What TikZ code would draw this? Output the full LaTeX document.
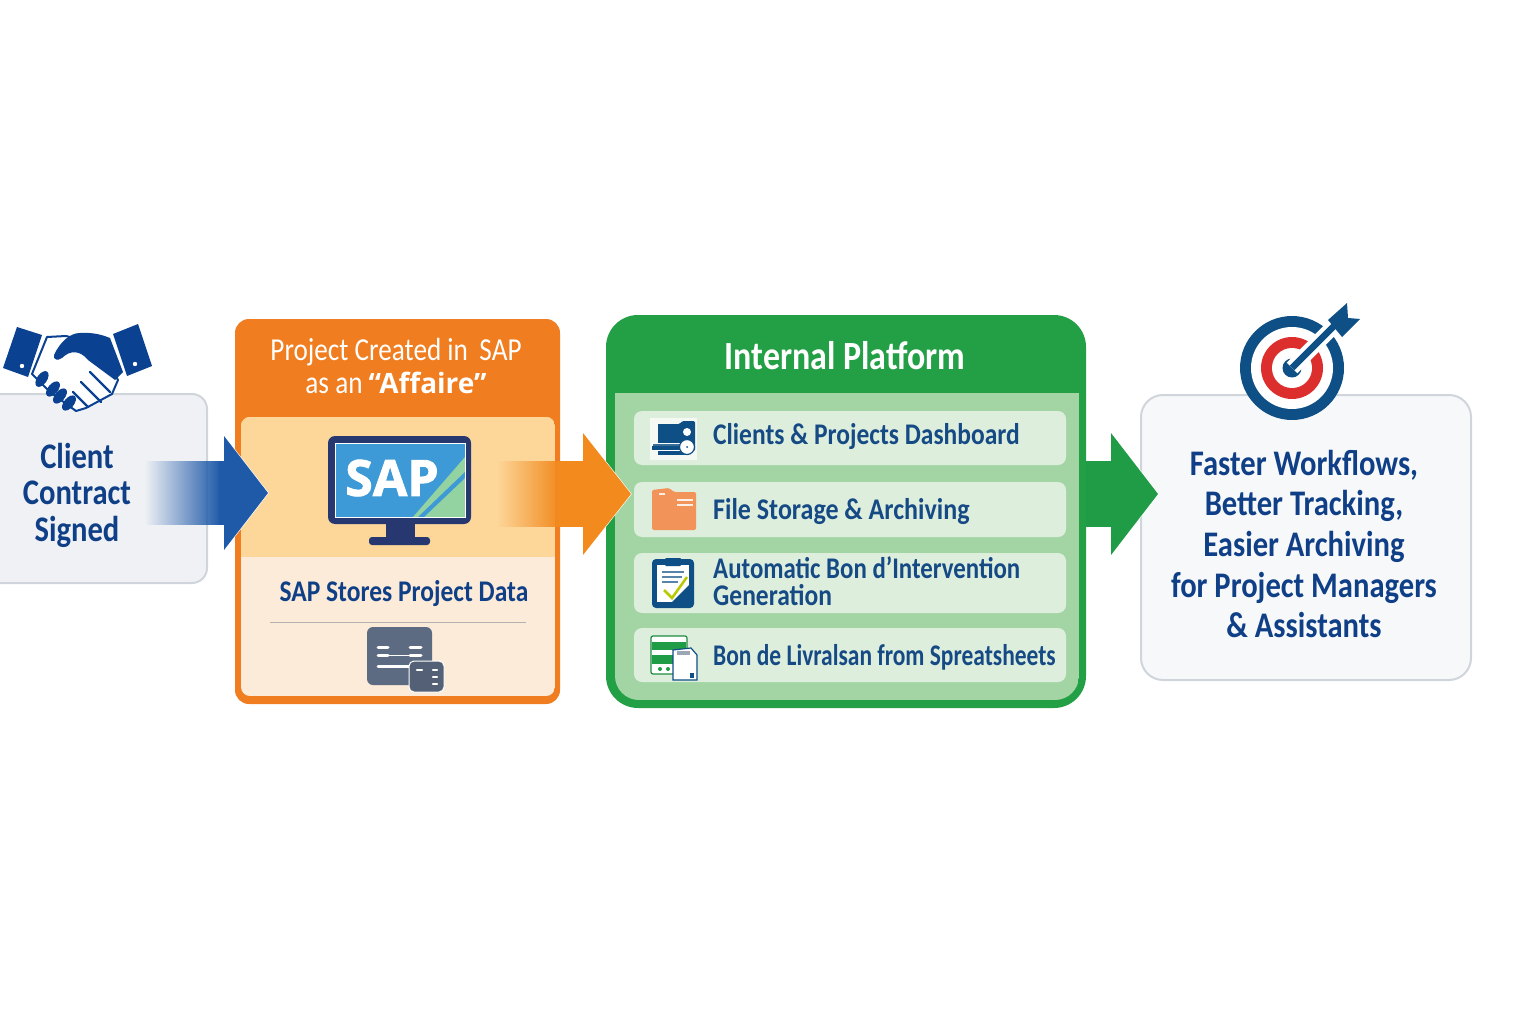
\documentclass[tikz,border=0pt]{standalone}
\usepackage{fontspec}
\usepackage{graphicx}
\setmainfont{Carlito}[FakeStretch=0.85]
\newfontfamily\heavy{Open Sans}
\newfontfamily\heavier{Open Sans}[BoldFeatures={FakeBold=1.6}]
\usetikzlibrary{calc,fadings}
\definecolor{navy}{HTML}{0F3F86}
\definecolor{rownavy}{HTML}{154A85}
\definecolor{cuffblue}{HTML}{0A4191}
\definecolor{orangeA}{HTML}{F07D1F}
\definecolor{peach}{HTML}{FDD79A}
\definecolor{cream}{HTML}{FCEBD8}
\definecolor{greenA}{HTML}{23A045}
\definecolor{greenB}{HTML}{A2D5A3}
\definecolor{rowbg}{HTML}{DDEEDD}
\definecolor{boxbg}{HTML}{EFF1F5}
\definecolor{boxline}{HTML}{D0D5DC}
\definecolor{mon}{HTML}{26386F}
\definecolor{screen}{HTML}{3E9AD6}
\definecolor{screeng}{HTML}{93D3A2}
\definecolor{ico}{HTML}{5C6B82}
\definecolor{tgt}{HTML}{0E4F86}
\definecolor{tred}{HTML}{DD2E2E}
\definecolor{arB}{HTML}{1F5AA8}
\definecolor{arO}{HTML}{F28A1E}
\definecolor{arG}{HTML}{1F9C45}
\definecolor{fold}{HTML}{F2935A}
\tikzfading[name=fadeE,left color=transparent!100,right color=transparent!0]
\newcommand{\fs}[2]{\fontsize{#1}{#2}\selectfont}
\tikzset{
  whitebox/.style={draw=boxline,line width=2pt,fill=#1,inner sep=0pt,rounded corners=15pt},
  rowbox/.style={fill=rowbg,inner sep=0pt,rounded corners=8pt},
  rowtext/.style={anchor=west,inner sep=0pt,text=rownavy,font=\fs{30}{30}\bfseries,text height=19pt,text depth=6pt},
  headtext/.style={inner sep=0pt,align=center,text=navy},
  headfill/.style={fill=#1},
  headedge/.style={draw=white,line width=1.2pt,line join=miter},
}
\begin{document}
\begin{tikzpicture}[x=1pt,y=-1pt]
\useasboundingbox (0,0) rectangle (1536,1024);
\clip (0,0) rectangle (1536,1024);

% ---- client box
\node[whitebox=boxbg,minimum width=227pt,minimum height=189pt] (client) at (93.5,488.5) {};
\node[headtext,font=\fs{36}{36.5}\bfseries] (clienttext) at (77,495) {Client\\Contract\\Signed};

% ---- handshake
\fill[cuffblue] (17,327)--(42,335)--(28,377)--(3,368)--cycle;
\fill[cuffblue] (113,334)--(138,324)--(152,366)--(127,376)--cycle;
\fill[white] (22,366) circle (2.2);
\fill[white] (135,364) circle (2.2);
\draw[cuffblue,line width=2pt,fill=white,line join=round]
  (47,337)--(66,336)--(100,345)--(118,380)--(112,394)--(86,408)--(76,411)--(50,392)--(32,374)--cycle;
\fill[cuffblue] (54,355) .. controls (60,342) and (70,333) .. (80,333)
  .. controls (95,332) and (105,336) .. (110,338) -- (123,372) -- (115,380)
  -- (88,360) .. controls (80,350) and (70,350) .. (62,358) .. controls (58,361) and (53,360) .. (54,355) -- cycle;
\foreach \a/\b/\r in {42/379/-35,53/389/-40,60/396/-40,69/403/-40}
  \fill[cuffblue,rotate around={\r+90:(\a,\b)}] (\a,\b) ellipse (9 and 5);
\draw[cuffblue,line width=2.2pt,line cap=round] (90,372)--(110,392);
\draw[cuffblue,line width=2.2pt,line cap=round] (81,382)--(101,402);
\draw[cuffblue,line width=2.2pt,line cap=round] (73,392)--(88,407);

% ---- orange box
\node[fill=orangeA,inner sep=0pt,rounded corners=14pt,minimum width=325pt,minimum height=385pt] (sapbox) at (397.5,511.5) {};
\begin{scope}
\clip[rounded corners=9pt] (241,417) rectangle (555,696);
\fill[cream] (241,417) rectangle (555,696);
\fill[peach] (241,417) rectangle (555,557);
\end{scope}
\node[inner sep=0pt,align=center,text=white,font=\fs{32}{33}] (saphead) at (396,366)
  {Project Created in\, SAP\\as an {\heavy\bfseries\fontsize{28}{33}\selectfont “Affaire”}};
% monitor
\fill[mon] (386,522) rectangle (415,538);
\fill[mon,rounded corners=3pt] (369,537) rectangle (430,545);
\fill[mon,rounded corners=7pt] (328,436) rectangle (471,524);
\fill[screen] (335,443) rectangle (465,517);
\fill[screeng] (465,457) -- (465,517) -- (413,517) -- cycle;
\fill[screen] (465,472) -- (465,478) -- (424,517) -- (418,517) -- cycle;
\draw[white,line width=1pt] (335,443) rectangle (465,517);
\node[inner sep=0pt,text=white,font=\heavier\fs{50}{50}\bfseries] (saplogo) at (392,478) {SAP};
\node[headtext,font=\fs{30}{30}\bfseries] (stores) at (404,594) {SAP Stores Project Data};
\coordinate (ruleL) at (270,622);
\coordinate (ruleR) at (526,622);
\draw[black!30,line width=0.8pt] (ruleL)--(ruleR);
% data icon
\fill[ico,rounded corners=6pt] (367,627) rectangle (432,685);
\draw[white,line width=3pt,line cap=round] (378,647)--(388,647) (410,647)--(421,647)
  (378,655)--(388,655) (410,655)--(421,655) (378,666)--(410,666);
\draw[white,line width=1pt] (388,655)--(410,655);
\draw[white,fill=ico!90!black,line width=1pt,rounded corners=5pt] (409,661) rectangle (444,692);
\draw[white,line width=2.4pt,line cap=round] (417,670)--(422,670) (433,670)--(437,670)
  (433,677)--(437,677) (433,684)--(437,684);

% ---- green box
\node[fill=greenA,inner sep=0pt,rounded corners=32pt,minimum width=480pt,minimum height=393pt] (platform) at (846,511.5) {};
\begin{scope}
\clip[rounded corners=24pt] (615,360) rectangle (1079,700);
\fill[greenB] (615,393) rectangle (1079,700);
\end{scope}
\node[inner sep=0pt,text=white,font=\fs{40}{40}\bfseries] (plathead) at (845,356) {Internal Platform};
\node[rowbox,minimum width=432pt,minimum height=54pt] (r1) at (850,438) {};
\node[rowbox,minimum width=432pt,minimum height=55pt] (r2) at (850,509.5) {};
\node[rowbox,minimum width=432pt,minimum height=60pt] (r3) at (850,583) {};
\node[rowbox,minimum width=432pt,minimum height=54pt] (r4) at (850,655) {};
\node[rowtext] (t1) at (713,438) {Clients \& Projects Dashboard};
\node[rowtext] (t2) at (713,513) {\scalebox{1.02}[1]{File Storage \& Archiving}};
\node[rowtext] (t3a) at (713,572) {\scalebox{.975}[1]{Automatic Bon d’Intervention}};
\node[rowtext] (t3b) at (713,599) {Generation};
\node[rowtext] (t4) at (713,659) {\scalebox{.92}[1]{Bon de Livralsan from Spreatsheets}};
% icon 1
\fill[white,opacity=.7] (650,418) rectangle (697,460);
\fill[tgt,rounded corners=1.5pt] (658,424) -- (680,424) -- (682,421) -- (695,421) -- (695,451) -- (658,455) -- cycle;
\fill[tgt] (658,424) rectangle (688,455);
\fill[white] (687,432) circle (4);
\draw[white,fill=tgt!80!rowbg] (652,443) rectangle (680,450);
\fill[tgt] (652,446) rectangle (680,450);
\draw[tgt,line width=1.2pt,fill=white] (687,447) circle (7.5);
\fill[tgt] (687,447) circle (1);
% icon 2
\fill[fold,rounded corners=1.5pt] (652,490) -- (669,488) -- (674,492) -- (696,492) -- (696,530) -- (652,530) -- cycle;
\draw[white!85!fold,line width=1.6pt] (659,494)--(665,494) (677,500)--(693,500) (677,505)--(693,505);
% icon 3
\fill[tgt,rounded corners=4pt] (652,559) rectangle (694,608);
\fill[white] (657,565) rectangle (689,602) ;
\fill[tgt] (689,585) -- (689,602) -- (672,602) -- cycle;
\fill[tgt,rounded corners=1pt] (665,558) rectangle (681,566);
\draw[tgt!70,line width=1.1pt] (662,572)--(684,572) (662,577)--(682,577) (662,582)--(678,582);
\draw[orange!60!green!70!yellow,line width=2.5pt] (664,590)--(672,598)--(687,577);
% icon 4
\draw[arG!90!black,fill=white,line width=1.2pt,rounded corners=2pt] (651,636) rectangle (687,674);
\fill[arG] (652,642) rectangle (686,650);
\fill[arG] (652,655) rectangle (686,664);
\fill[arG] (660,669) circle (2) (668,669) circle (2);
\draw[tgt,fill=white,line width=1.2pt] (673,650) -- (691,648) -- (697,655) -- (697,680) -- (673,680) -- cycle;
\fill[ico!60] (677,651) rectangle (690,655);
\fill[tgt] (690,673) rectangle (694,678);

% ---- result box
\node[whitebox=boxbg!50!white,rounded corners=22pt,minimum width=330pt,minimum height=285pt] (result) at (1306,537.5) {};
\node[headtext,font=\fs{36}{40.7}\bfseries] (resulttext) at (1304,544)
  {Faster Workflows,\\Better Tracking,\\Easier Archiving\\for Project Managers\\\& Assistants};
% target
\coordinate (tc) at (1292,368);
\coordinate (ttip) at (1338,322);
\fill[tgt] (tc) circle (52);
\fill[white] (tc) circle (41);
\fill[tred] (tc) circle (31);
\fill[white] (tc) circle (20);
\fill[tgt] (tc) circle (9.5);
\draw[white,line width=15pt] (tc)--(1345,315);
\draw[tgt,line width=6.5pt] (tc)--(ttip);
\fill[tgt] (1328,320)--(1347,303)--(1348,318)--(1360,319)--(1342,337)--cycle;

% ---- arrows
\coordinate (a1s) at (145,493); \coordinate (a1t) at (268,493);
\coordinate (a2s) at (497,494); \coordinate (a2t) at (631,494);
\coordinate (a3s) at (1086,494); \coordinate (a3t) at (1158,494);
% arrow 1
\fill[arB,path fading=fadeE] ($(a1s)+(0,-32)$) rectangle ($(a1t)+(-48,32)$);
\fill[arB] ($(a1t)+(-49,-32)$) rectangle ($(a1t)+(-43,32)$);
\draw[headedge] ($(a1t)+(-44,-57)$) -- (a1t) -- ($(a1t)+(-44,57)$);
\fill[headfill=arB] ($(a1t)+(-44,-57)$) -- (a1t) -- ($(a1t)+(-44,57)$) -- cycle;
% arrow 2
\fill[arO,path fading=fadeE] ($(a2s)+(0,-33)$) rectangle ($(a2t)+(-71,33)$);
\fill[arO] ($(a2t)+(-72,-33)$) rectangle ($(a2t)+(-47,33)$);
\draw[headedge] ($(a2t)+(-48,-61)$) -- (a2t) -- ($(a2t)+(-48,61)$);
\fill[headfill=arO] ($(a2t)+(-48,-61)$) -- (a2t) -- ($(a2t)+(-48,61)$) -- cycle;
% arrow 3
\fill[arG] ($(a3s)+(0,-33)$) rectangle ($(a3t)+(-46,33)$);
\draw[headedge] ($(a3t)+(-47,-61)$) -- (a3t) -- ($(a3t)+(-47,61)$);
\fill[headfill=arG] ($(a3t)+(-47,-61)$) -- (a3t) -- ($(a3t)+(-47,61)$) -- cycle;
\end{tikzpicture}
\end{document}
